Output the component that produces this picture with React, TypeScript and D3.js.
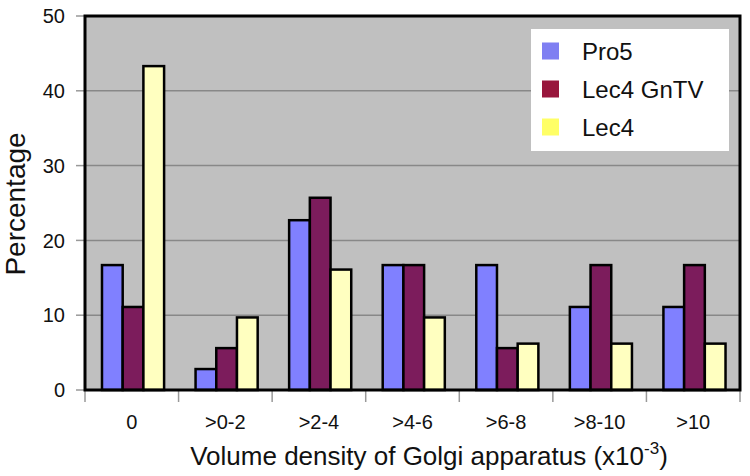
import React from "react";
import * as d3 from "d3";

const categories = ["0", ">0-2", ">2-4", ">4-6", ">6-8", ">8-10", ">10"];
const seriesNames = ["Pro5", "Lec4 GnTV", "Lec4"];
const pro5 = [16.7, 2.8, 22.7, 16.7, 16.7, 11.1, 11.1];
const lec4GnTV = [11.1, 5.6, 25.7, 16.7, 5.6, 16.7, 16.7];
const lec4 = [43.3, 9.7, 16.1, 9.7, 6.2, 6.2, 6.2];
const yTicks = [0, 10, 20, 30, 40, 50];
const barColors = ["#8080ff", "#7c1c5c", "#ffffc0"];
const legendColors = ["#7f7ff2", "#98163c", "#ffff66"];

const W = 750;
const H = 476;
const plot = { left: 85, top: 16, right: 740, bottom: 390 };
const FONT = "'Liberation Sans', Arial, Helvetica, sans-serif";

export default function App() {
  const seriesValues = [pro5, lec4GnTV, lec4];
  const x0 = d3.scaleBand<string>().domain(categories).range([plot.left, plot.right]).paddingInner(0).paddingOuter(0);
  const x1 = d3
    .scaleBand<string>()
    .domain(seriesNames)
    .range([0, x0.bandwidth()])
    .paddingInner(0)
    .paddingOuter(0.76)
    .align(0.54);
  const y = d3.scaleLinear().domain([0, 50]).range([plot.bottom, plot.top]);

  const dividers = categories.map((c) => x0(c)!).concat([plot.right]);

  return (
    <svg width={W} height={H} style={{ position: "absolute", left: 0, top: 0, background: "#fff" }} fontFamily={FONT}>
      <rect x={plot.left} y={plot.top} width={plot.right - plot.left} height={plot.bottom - plot.top} fill="#c0c0c0" />
      {yTicks.filter((t) => t > 0 && t < 50).map((t) => (
        <line key={"g" + t} x1={plot.left} x2={plot.right} y1={y(t)} y2={y(t)} stroke="#888" strokeWidth={1.5} />
      ))}
      {yTicks.map((t) => (
        <g key={"yt" + t}>
          <line x1={76} x2={plot.left} y1={y(t)} y2={y(t)} stroke="#999" strokeWidth={1.5} />
          <text x={65} y={y(t)} dy="0.36em" textAnchor="end" fontSize={20} fill="#111">
            {t}
          </text>
        </g>
      ))}
      {dividers.map((d, i) => (
        <line key={"d" + i} x1={d} x2={d} y1={plot.bottom} y2={plot.bottom + 12} stroke="#999" strokeWidth={1.5} />
      ))}
      {categories.map((c, ci) =>
        seriesNames.map((s, si) => {
          const v = seriesValues[si][ci];
          return (
            <rect
              key={c + s}
              x={x0(c)! + x1(s)!}
              y={y(v)}
              width={x1.bandwidth()}
              height={y(0) - y(v)}
              fill={barColors[si]}
              stroke="#000"
              strokeWidth={2.5}
            />
          );
        })
      )}
      <rect
        x={plot.left}
        y={plot.top}
        width={plot.right - plot.left}
        height={plot.bottom - plot.top}
        fill="none"
        stroke="#000"
        strokeWidth={3}
      />
      {categories.map((c) => (
        <text key={"xl" + c} x={x0(c)! + x0.bandwidth() / 2} y={429} textAnchor="middle" fontSize={20} fill="#111">
          {c}
        </text>
      ))}
      <text x={429} y={465} textAnchor="middle" fontSize={26} fill="#111">
        Volume density of Golgi apparatus (x10
        <tspan dy={-11} fontSize={17}>-3</tspan>
        <tspan dy={11}>)</tspan>
      </text>
      <text transform={`translate(25,204) rotate(-90)`} textAnchor="middle" fontSize={28} fill="#111">
        Percentage
      </text>
      <rect x={531} y={29} width={198} height={122} fill="#fff" />
      {seriesNames.map((s, i) => (
        <g key={"lg" + s} transform={`translate(542,${51 + i * 38})`}>
          <rect x={0} y={-8.5} width={17} height={17} fill={legendColors[i]} />
          <text x={40} y={0} dy="0.36em" fontSize={24} fill="#111">
            {s}
          </text>
        </g>
      ))}
    </svg>
  );
}
